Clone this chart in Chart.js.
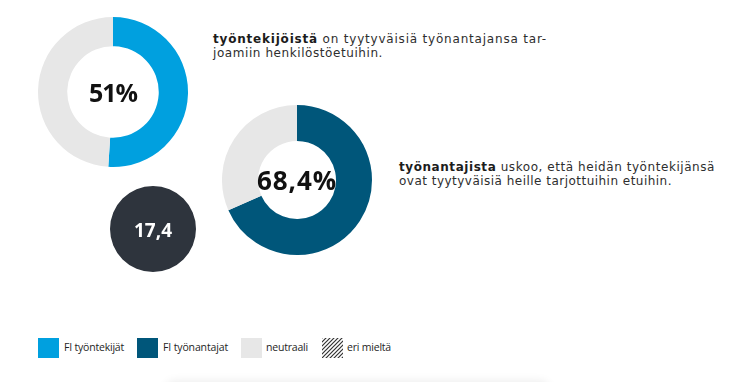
<!DOCTYPE html>
<html>
<head>
<meta charset="utf-8">
<script src="https://cdn.jsdelivr.net/npm/chart.js@4.4.1/dist/chart.umd.min.js"></script>
<style>
  html, body { margin:0; padding:0; background:#fff; }
  body { width:750px; height:382px; position:relative; overflow:hidden; font-family:"DejaVu Sans", sans-serif; color:#2a2a2a; }
  canvas { position:absolute; }
  .center { position:absolute; display:flex; align-items:center; justify-content:center; font-family:"Open Sans", sans-serif; font-weight:700; white-space:nowrap; }
  .center span { display:inline-block; }
  .line { position:absolute; font-size:12px; line-height:14.5px; white-space:nowrap; color:#2e2e2e; }
  .line > span { display:inline-block; }
  .line b { color:#1c1c1c; }
  .sw { position:absolute; width:21px; height:20px; top:338px; }
  .lab { position:absolute; top:340px; font-family:"Open Sans", sans-serif; font-size:10.5px; line-height:15px; color:#1e1e1e; white-space:nowrap; display:inline-block; }
  .shadow { position:absolute; left:165px; top:384px; width:385px; height:20px; box-shadow:0 -3px 10px rgba(0,0,0,0.08); border-radius:10px; }
</style>
</head>
<body>
<canvas id="c1" width="150" height="150" style="left:38px;top:17px"></canvas>
<canvas id="c2" width="150" height="150" style="left:222px;top:105px"></canvas>
<canvas id="c3" width="86" height="86" style="left:110px;top:186px"></canvas>

<div class="center" style="left:38px;top:17px;width:150px;height:149px;font-size:25px;color:#111"><span id="t1" data-w="48"></span></div>
<div class="center" style="left:222px;top:105px;width:150px;height:150px;font-size:26px;color:#111"><span id="t2" data-w="80"></span></div>
<div class="center" style="left:110px;top:186px;width:86px;height:87px;font-size:19px;color:#fff"><span id="t3" data-w="38"></span></div>

<div class="line" style="left:213px;top:32px"><span class="fit" data-w="334"><b>työntekijöistä</b> on tyytyväisiä työnantajansa tar-</span></div>
<div class="line" style="left:213px;top:46.3px"><span class="fit" data-w="170">joamiin henkilöstöetuihin.</span></div>
<div class="line" style="left:399px;top:159.6px"><span class="fit" data-w="316"><b>työnantajista</b> uskoo, että heidän työntekijänsä</span></div>
<div class="line" style="left:399px;top:174px"><span class="fit" data-w="273">ovat tyytyväisiä heille tarjottuihin etuihin.</span></div>

<div id="legend"></div>
<div class="shadow"></div>

<script>
// Data
const legendLabels = ["FI työntekijät", "FI työnantajat", "neutraali", "eri mieltä"];
const employeeSatisfied = [51, 49];      // FI työntekijät vs neutraali
const employerBelieve = [68.4, 31.6];    // FI työnantajat vs neutraali
const circleValue = [17.4];
const centerLabels = ["51%", "68,4%", "17,4"];

const cBlue = "#00a0df", cDark = "#00567a", cGray = "#e7e7e7", cCircle = "#2e343d";

function hatch() {
  const p = document.createElement("canvas");
  p.width = 4; p.height = 4;
  const g = p.getContext("2d");
  g.fillStyle = "#fff"; g.fillRect(0,0,4,4);
  g.strokeStyle = "#333"; g.lineWidth = 1.2;
  g.beginPath(); g.moveTo(0,4); g.lineTo(4,0); g.moveTo(-1,1); g.lineTo(1,-1); g.moveTo(3,5); g.lineTo(5,3); g.stroke();
  return p.toDataURL();
}

const baseOpts = {
  responsive:false, animation:false, events:[],
  plugins:{ legend:{display:false}, tooltip:{enabled:false} },
  layout:{ padding:0 }
};

new Chart(document.getElementById("c1"), {
  type:"doughnut",
  data:{ labels:[legendLabels[0], legendLabels[2]], datasets:[{ data:employeeSatisfied, backgroundColor:[cBlue,cGray], borderWidth:0 }] },
  options:Object.assign({ cutout:"61%" }, baseOpts)
});
new Chart(document.getElementById("c2"), {
  type:"doughnut",
  data:{ labels:[legendLabels[1], legendLabels[2]], datasets:[{ data:employerBelieve, backgroundColor:[cDark,cGray], borderWidth:0 }] },
  options:Object.assign({ cutout:"52%" }, baseOpts)
});
new Chart(document.getElementById("c3"), {
  type:"pie",
  data:{ labels:["17,4"], datasets:[{ data:circleValue, backgroundColor:[cCircle], borderWidth:0 }] },
  options:baseOpts
});

document.getElementById("t1").textContent = centerLabels[0];
document.getElementById("t2").textContent = centerLabels[1];
document.getElementById("t3").textContent = centerLabels[2];

const swatches = [cBlue, cDark, cGray, "url(" + hatch() + ")"];
const swX = [38, 137, 241, 322];
const labX = [64, 163, 266, 347];
const labW = [60, 65, 42, 44];
const lg = document.getElementById("legend");
legendLabels.forEach((l, i) => {
  const sw = document.createElement("div"); sw.className = "sw";
  sw.style.left = swX[i] + "px";
  sw.style.background = swatches[i];
  const tx = document.createElement("span"); tx.className = "lab";
  tx.style.left = labX[i] + "px";
  tx.dataset.w = labW[i];
  tx.textContent = l;
  lg.appendChild(sw); lg.appendChild(tx);
});

// fit text widths to the reference extents via letter-spacing
document.querySelectorAll("[data-w]").forEach(el => {
  const target = parseFloat(el.dataset.w);
  const n = el.textContent.length;
  const w = el.getBoundingClientRect().width;
  el.style.letterSpacing = ((target - w) / n) + "px";
});
</script>
</body>
</html>
